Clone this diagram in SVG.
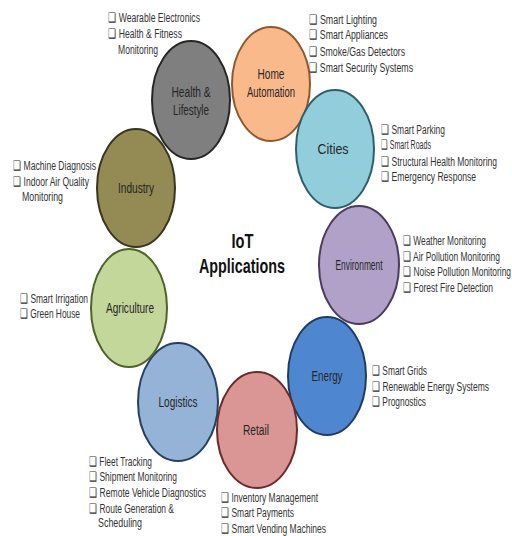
<svg xmlns="http://www.w3.org/2000/svg" width="512" height="536" viewBox="0 0 512 536">
<style>
.n ellipse{stroke-width:2}
.lbl{font-family:"Liberation Sans",Arial,sans-serif;font-size:14px;fill:#262626;text-anchor:middle}
.li{font-family:"Liberation Sans",Arial,sans-serif;font-size:12.5px;fill:#333}
.t{font-family:"Liberation Sans",Arial,sans-serif;font-size:21px;font-weight:bold;fill:#111;text-anchor:middle}
</style>
<rect width="512" height="536" fill="#fff"/>
<g id="connectors"/>
<g id="title"><text class="t" x="242.5" y="248" textLength="22" lengthAdjust="spacingAndGlyphs">IoT</text><text class="t" x="242" y="273" textLength="86" lengthAdjust="spacingAndGlyphs">Applications</text></g>
<g id="health" class="n"><ellipse cx="191" cy="100" rx="39" ry="59" fill="#7F7F7F" stroke="#262626"/>
<text class="lbl" x="191" y="97" textLength="39" lengthAdjust="spacingAndGlyphs">Health &amp;</text><text class="lbl" x="191" y="115" textLength="36" lengthAdjust="spacingAndGlyphs">Lifestyle</text>
<text class="li" x="108" y="22" textLength="92" lengthAdjust="spacingAndGlyphs">❑ Wearable Electronics</text><text class="li" x="108" y="38" textLength="74" lengthAdjust="spacingAndGlyphs">❑ Health &amp; Fitness</text><text class="li" x="118" y="54" textLength="40" lengthAdjust="spacingAndGlyphs">Monitoring</text></g>
<g id="home" class="n"><ellipse cx="271" cy="84" rx="39" ry="57" fill="#FAB98B" stroke="#8C5A2E"/>
<text class="lbl" x="271" y="79" textLength="27" lengthAdjust="spacingAndGlyphs">Home</text><text class="lbl" x="271" y="97" textLength="48" lengthAdjust="spacingAndGlyphs">Automation</text>
<text class="li" x="309" y="24" textLength="68" lengthAdjust="spacingAndGlyphs">❑ Smart Lighting</text><text class="li" x="309" y="39" textLength="79" lengthAdjust="spacingAndGlyphs">❑ Smart Appliances</text><text class="li" x="309" y="56" textLength="96" lengthAdjust="spacingAndGlyphs">❑ Smoke/Gas Detectors</text><text class="li" x="309" y="72" textLength="104" lengthAdjust="spacingAndGlyphs">❑ Smart Security Systems</text></g>
<g id="cities" class="n"><ellipse cx="335" cy="149" rx="39" ry="59" fill="#92CDDC" stroke="#2E5F6B"/>
<text class="lbl" x="333" y="154" textLength="31" lengthAdjust="spacingAndGlyphs">Cities</text>
<text class="li" x="381" y="134" textLength="64" lengthAdjust="spacingAndGlyphs">❑ Smart Parking</text><text class="li" x="381" y="149" textLength="50" lengthAdjust="spacingAndGlyphs">❑ Smart Roads</text><text class="li" x="381" y="166" textLength="116" lengthAdjust="spacingAndGlyphs">❑ Structural Health Monitoring</text><text class="li" x="381" y="181" textLength="95" lengthAdjust="spacingAndGlyphs">❑ Emergency Response</text></g>
<g id="environment" class="n"><ellipse cx="359" cy="265" rx="40" ry="59" fill="#B1A0C7" stroke="#4B3B5E"/>
<text class="lbl" x="359" y="270" textLength="47" lengthAdjust="spacingAndGlyphs">Environment</text>
<text class="li" x="403" y="245" textLength="83" lengthAdjust="spacingAndGlyphs">❑ Weather Monitoring</text><text class="li" x="403" y="261" textLength="97" lengthAdjust="spacingAndGlyphs">❑ Air Pollution Monitoring</text><text class="li" x="403" y="276" textLength="108" lengthAdjust="spacingAndGlyphs">❑ Noise Pollution Monitoring</text><text class="li" x="403" y="292" textLength="90" lengthAdjust="spacingAndGlyphs">❑ Forest Fire Detection</text></g>
<g id="energy" class="n"><ellipse cx="327" cy="376" rx="39" ry="59" fill="#4F86D0" stroke="#1F3C66"/>
<text class="lbl" x="327" y="381" textLength="31" lengthAdjust="spacingAndGlyphs">Energy</text>
<text class="li" x="372" y="375" textLength="55" lengthAdjust="spacingAndGlyphs">❑ Smart Grids</text><text class="li" x="372" y="391" textLength="117" lengthAdjust="spacingAndGlyphs">❑ Renewable Energy Systems</text><text class="li" x="372" y="406" textLength="54" lengthAdjust="spacingAndGlyphs">❑ Prognostics</text></g>
<g id="retail" class="n"><ellipse cx="257" cy="430" rx="40" ry="58" fill="#DA9694" stroke="#6B2B2A"/>
<text class="lbl" x="256" y="435" textLength="26" lengthAdjust="spacingAndGlyphs">Retail</text>
<text class="li" x="221" y="502" textLength="97" lengthAdjust="spacingAndGlyphs">❑ Inventory  Management</text><text class="li" x="221" y="517" textLength="73" lengthAdjust="spacingAndGlyphs">❑ Smart Payments</text><text class="li" x="221" y="533" textLength="105" lengthAdjust="spacingAndGlyphs">❑ Smart Vending Machines</text></g>
<g id="logistics" class="n"><ellipse cx="178" cy="402" rx="40" ry="59" fill="#95B3D7" stroke="#254061"/>
<text class="lbl" x="178" y="407" textLength="39" lengthAdjust="spacingAndGlyphs">Logistics</text>
<text class="li" x="89" y="466" textLength="63" lengthAdjust="spacingAndGlyphs">❑ Fleet Tracking</text><text class="li" x="89" y="481" textLength="88" lengthAdjust="spacingAndGlyphs">❑ Shipment Monitoring</text><text class="li" x="89" y="497" textLength="117" lengthAdjust="spacingAndGlyphs">❑ Remote Vehicle Diagnostics</text><text class="li" x="89" y="513" textLength="85" lengthAdjust="spacingAndGlyphs">❑ Route Generation &amp;</text><text class="li" x="98" y="527" textLength="44" lengthAdjust="spacingAndGlyphs">Scheduling</text></g>
<g id="agriculture" class="n"><ellipse cx="129" cy="308" rx="38" ry="59" fill="#C4D79B" stroke="#4F6228"/>
<text class="lbl" x="130" y="313" textLength="48" lengthAdjust="spacingAndGlyphs">Agriculture</text>
<text class="li" x="20" y="303" textLength="68" lengthAdjust="spacingAndGlyphs">❑ Smart Irrigation</text><text class="li" x="20" y="318" textLength="60" lengthAdjust="spacingAndGlyphs">❑ Green House</text></g>
<g id="industry" class="n"><ellipse cx="136" cy="188" rx="39" ry="59" fill="#948A54" stroke="#3A3520"/>
<text class="lbl" x="136" y="193" textLength="36" lengthAdjust="spacingAndGlyphs">Industry</text>
<text class="li" x="13" y="170" textLength="83" lengthAdjust="spacingAndGlyphs">❑ Machine Diagnosis</text><text class="li" x="13" y="186" textLength="76" lengthAdjust="spacingAndGlyphs">❑ Indoor Air Quality</text><text class="li" x="22" y="201" textLength="41" lengthAdjust="spacingAndGlyphs">Monitoring</text></g>
</svg>
